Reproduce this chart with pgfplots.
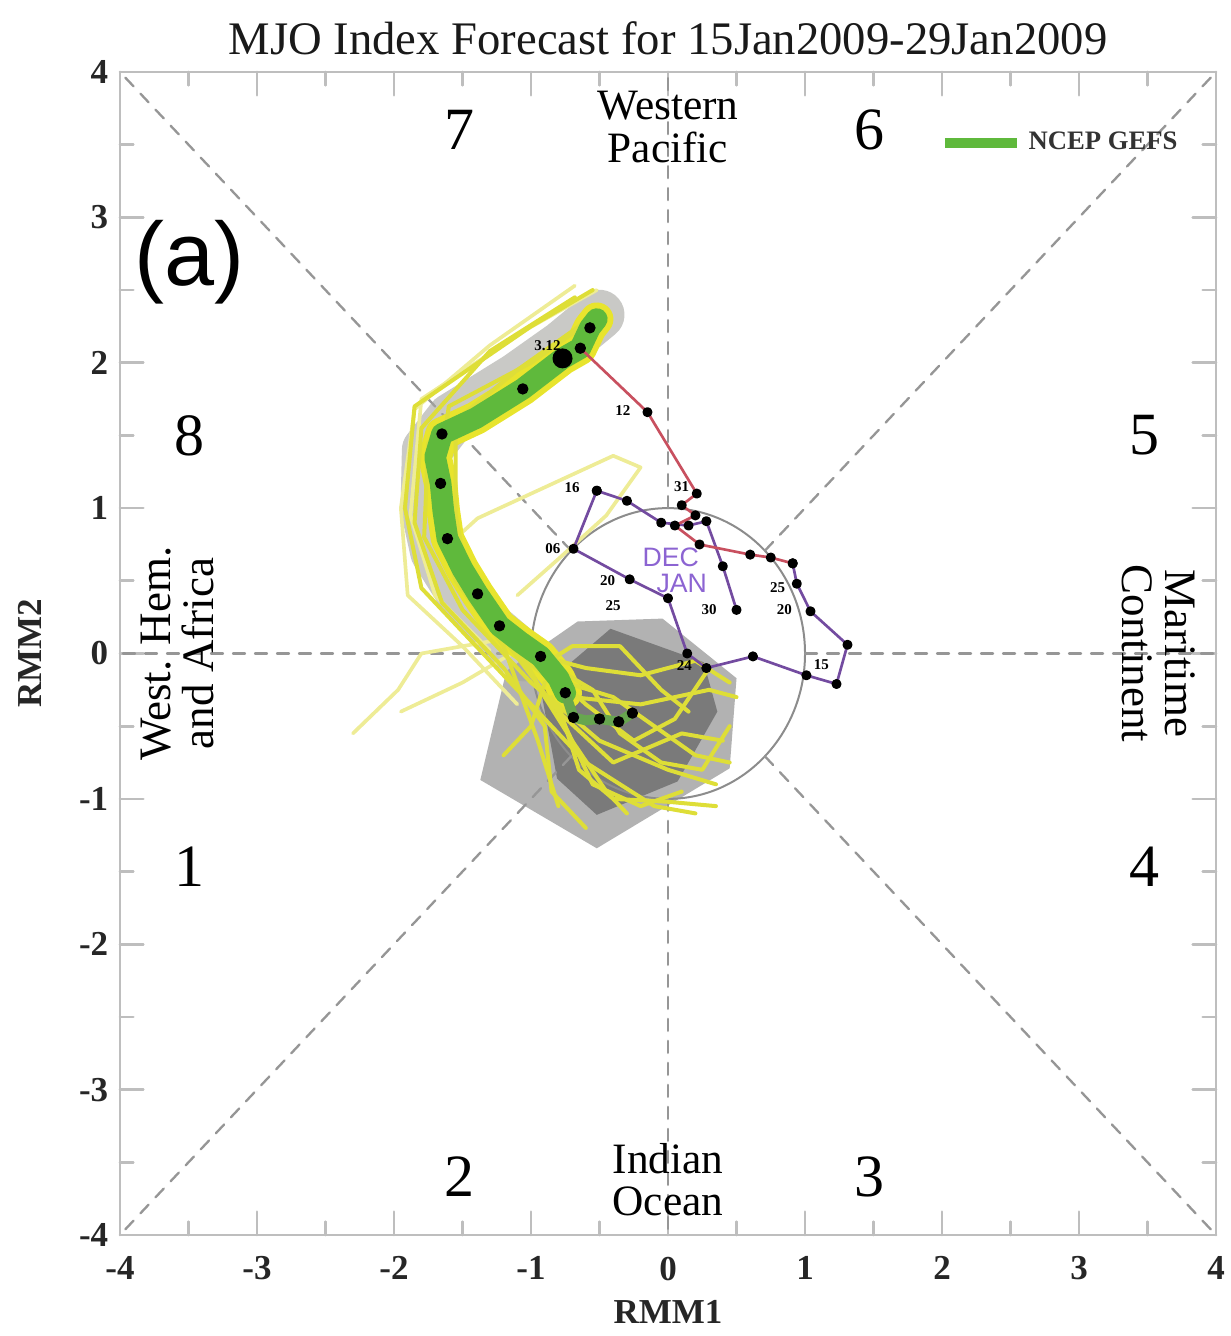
\documentclass[border=0pt]{standalone}
\usepackage{fontspec}
\setmainfont{Liberation Serif}
\setsansfont{Liberation Sans}
\usepackage{pgfplots}
\pgfplotsset{compat=1.18}
\definecolor{trackgreen}{RGB}{95,185,60}
\definecolor{bandyellow}{RGB}{232,228,45}
\definecolor{ensyellow}{RGB}{222,222,55}
\definecolor{paleyellow}{RGB}{238,236,150}
\definecolor{bandgray}{RGB}{165,165,160}
\definecolor{polyouter}{RGB}{178,178,178}
\definecolor{polyinner}{RGB}{122,122,122}
\definecolor{axisgray}{RGB}{190,190,190}
\definecolor{dashgray}{RGB}{150,150,150}
\definecolor{circgray}{RGB}{140,140,140}
\definecolor{janred}{RGB}{200,80,95}
\definecolor{decpurple}{RGB}{115,75,160}
\definecolor{txtpurple}{RGB}{140,100,210}
\begin{document}
\begin{tikzpicture}
\begin{axis}[name=ax, scale only axis, width=328.8pt, height=348.9pt,
  xmin=-4, xmax=4, ymin=-4, ymax=4,
  xtick={-4,-3,-2,-1,0,1,2,3,4}, ytick={-4,-3,-2,-1,0,1,2,3,4},
  xticklabels={-4,-3,-2,-1,0,1,2,3,4}, yticklabels={-4,-3,-2,-1,0,1,2,3,4},
  minor tick num=1, tick align=inside, major tick length=7pt, minor tick length=4pt,
  axis line style={axisgray, line width=0.8pt},
  every tick/.style={axisgray, line width=0.8pt},
  tick label style={font=\fontsize{10.5}{10.5}\selectfont\bfseries, text=black!85},
  xticklabel style={yshift=-3pt},
  xlabel={RMM1}, ylabel={RMM2},
  xlabel style={at={(axis description cs:0.5,-0.0660)}, anchor=center, font=\fontsize{10.5}{10.5}\selectfont\bfseries, text=black!85},
  ylabel style={at={(axis description cs:-0.082,0.5)}, anchor=center, font=\fontsize{10.5}{10.5}\selectfont\bfseries, text=black!85},
  title={MJO Index Forecast for 15Jan2009-29Jan2009},
  title style={at={(axis description cs:0.5,1.012)}, anchor=center, font=\fontsize{14}{14}\selectfont, text=black!90},
  legend style={at={(axis cs:1.98,3.51)}, anchor=west, draw=none, fill=none, inner sep=0pt,
    font=\fontsize{8}{8}\selectfont\bfseries, text=black!80},
  legend image code/.code={\draw[trackgreen, line width=3pt] (0pt,0pt) -- (21.6pt,0pt);},
  line join=round, line cap=round,
]
% outer polygon and inner polygon
\addplot[fill=polyouter, draw=none, forget plot] coordinates {(-1.37,-0.87)(-1.18,-0.12)(-0.66,0.22)(-0.04,0.24)(0.50,-0.17)(0.45,-0.79)(-0.52,-1.34)} --cycle;
\addplot[fill=polyinner, draw=none, forget plot] coordinates {(-0.42,0.17)(0.26,-0.06)(0.36,-0.40)(0.07,-0.88)(-0.52,-1.11)(-0.81,-0.86)(-0.93,-0.24)} --cycle;
% unit circle
\draw[circgray, line width=0.6pt] (axis cs:0,0) ellipse [x radius=1, y radius=1];
% dashed phase lines
\addplot[dashgray, line width=0.7pt, dash pattern=on 3.6pt off 3pt, forget plot] coordinates {(0.7071,0.7071)(4,4)};
\addplot[dashgray, line width=0.7pt, dash pattern=on 3.6pt off 3pt, forget plot] coordinates {(-0.7071,-0.7071)(-4,-4)};
\addplot[dashgray, line width=0.7pt, dash pattern=on 3.6pt off 3pt, forget plot] coordinates {(-0.7071,0.7071)(-4,4)};
\addplot[dashgray, line width=0.7pt, dash pattern=on 3.6pt off 3pt, forget plot] coordinates {(0.7071,-0.7071)(4,-4)};
\addplot[dashgray, line width=0.7pt, dash pattern=on 3.6pt off 3pt, forget plot] coordinates {(0,1)(0,4)};
\addplot[dashgray, line width=0.7pt, dash pattern=on 3.6pt off 3pt, forget plot] coordinates {(0,-1)(0,-4)};
\addplot[dashgray, line width=0.7pt, dash pattern=on 3.6pt off 3pt, forget plot] coordinates {(1,0)(4,0)};
\addplot[dashgray, line width=0.7pt, dash pattern=on 3.6pt off 3pt, forget plot] coordinates {(-1,0)(-4,0)};
% gray spread band
\addplot[bandgray, line width=15pt, opacity=0.6, forget plot] coordinates {(-0.50,2.33)(-0.77,2.12)(-1.10,1.90)(-1.58,1.62)(-1.76,1.40)(-1.77,1.00)(-1.70,0.70)(-1.52,0.43)(-1.30,0.18)(-1.05,-0.02)};
% pale outer ensemble lines
\addplot[paleyellow, line width=1.1pt, forget plot] coordinates {(-0.68,2.53)(-1.30,2.12)(-1.85,1.68)(-1.95,1.00)(-1.90,0.40)(-1.50,0.05)(-1.10,-0.35)};
\addplot[paleyellow, line width=1.1pt, forget plot] coordinates {(-0.52,2.50)(-1.05,2.22)(-1.80,1.75)(-1.88,0.95)(-1.70,0.40)(-1.30,0.02)};
\addplot[paleyellow, line width=1.1pt, forget plot] coordinates {(-1.60,0.75)(-1.39,0.93)(-0.40,1.36)(-0.20,1.28)(-0.45,0.95)(-0.80,0.65)(-1.10,0.40)};
\addplot[paleyellow, line width=1.1pt, forget plot] coordinates {(-1.20,0.10)(-1.80,0.00)(-1.97,-0.25)(-2.30,-0.55)};
\addplot[paleyellow, line width=1.1pt, forget plot] coordinates {(-1.05,0.05)(-1.50,-0.20)(-1.95,-0.40)};
% yellow band
\addplot[bandyellow, line width=10pt, forget plot] coordinates {(-0.52,2.30)(-0.57,2.24)(-0.64,2.10)(-0.77,2.03)(-1.06,1.82)(-1.40,1.62)(-1.65,1.51)(-1.70,1.35)(-1.66,1.17)(-1.64,0.98)(-1.61,0.79)(-1.50,0.58)(-1.39,0.41)(-1.23,0.19)(-1.08,0.08)(-0.93,-0.02)(-0.80,-0.17)(-0.75,-0.27)};
% ensemble members
\addplot[ensyellow, line width=1.2pt, forget plot] coordinates {(-0.55,2.50)(-1.00,2.25)(-1.85,1.70)(-1.92,1.00)(-1.80,0.45)(-1.40,0.05)(-1.00,-0.35)(-0.60,-0.75)(-0.10,-1.05)(0.20,-1.10)};
\addplot[ensyellow, line width=1.2pt, forget plot] coordinates {(-0.68,2.45)(-1.30,2.08)(-1.80,1.55)(-1.85,0.90)(-1.65,0.35)(-1.20,-0.10)(-0.90,-0.50)(-0.85,-0.95)(-0.60,-1.20)};
\addplot[ensyellow, line width=1.2pt, forget plot] coordinates {(-0.50,2.35)(-1.10,1.95)(-1.55,1.60)(-1.55,0.95)(-1.45,0.45)(-1.10,0.00)(-0.70,-0.30)(-0.20,-0.35)(0.30,-0.25)(0.50,-0.30)};
\addplot[ensyellow, line width=1.2pt, forget plot] coordinates {(-0.60,2.20)(-1.20,1.75)(-1.75,1.45)(-1.78,0.80)(-1.50,0.30)(-1.00,-0.20)(-0.50,-0.60)(0.00,-0.80)(0.35,-0.90)};
\addplot[ensyellow, line width=1.2pt, forget plot] coordinates {(-0.55,2.30)(-1.00,2.00)(-1.60,1.70)(-1.70,1.05)(-1.55,0.50)(-1.20,0.05)(-0.95,-0.60)(-0.80,-1.05)};
\addplot[ensyellow, line width=1.2pt, forget plot] coordinates {(-1.30,0.25)(-1.00,0.00)(-0.60,-0.10)(-0.20,-0.15)(0.20,-0.05)(0.45,-0.20)};
\addplot[ensyellow, line width=1.2pt, forget plot] coordinates {(-1.20,0.10)(-0.80,-0.40)(-0.40,-0.75)(0.10,-0.55)(0.40,-0.60)};
\addplot[ensyellow, line width=1.2pt, forget plot] coordinates {(-1.10,0.05)(-0.90,-0.30)(-0.70,-0.60)(-0.45,-0.95)(-0.30,-1.10)};
\addplot[ensyellow, line width=1.2pt, forget plot] coordinates {(-1.00,0.00)(-0.55,-0.25)(-0.35,-0.55)(-0.05,-0.75)(0.25,-0.80)(0.45,-0.50)};
\addplot[ensyellow, line width=1.2pt, forget plot] coordinates {(-0.95,-0.10)(-0.70,0.05)(-0.35,0.05)(-0.05,-0.25)(0.15,-0.40)};
\addplot[ensyellow, line width=1.2pt, forget plot] coordinates {(-0.90,-0.20)(-1.00,-0.50)(-1.20,-0.70)};
\addplot[ensyellow, line width=1.2pt, forget plot] coordinates {(-0.85,-0.30)(-0.55,-0.90)(-0.20,-1.05)(0.10,-0.95)};
\addplot[ensyellow, line width=1.2pt, forget plot] coordinates {(-0.88,-0.10)(-0.60,-0.35)(-0.25,-0.60)(0.05,-0.45)(0.30,-0.10)};
\addplot[ensyellow, line width=1.2pt, forget plot] coordinates {(-0.80,-0.35)(-0.65,-0.80)(-0.40,-1.00)(0.00,-1.02)(0.35,-1.05)};
\addplot[ensyellow, line width=1.2pt, forget plot] coordinates {(-0.75,-0.20)(-0.40,-0.30)(-0.10,-0.50)(0.20,-0.70)(0.45,-0.75)};
% green ensemble mean
\addplot[trackgreen, line width=6.5pt] coordinates {(-0.52,2.30)(-0.57,2.24)(-0.64,2.10)(-0.77,2.03)(-1.06,1.82)(-1.40,1.62)(-1.65,1.51)(-1.70,1.35)(-1.66,1.17)(-1.64,0.98)(-1.61,0.79)(-1.50,0.58)(-1.39,0.41)(-1.23,0.19)(-1.08,0.08)(-0.93,-0.02)(-0.80,-0.17)(-0.75,-0.27)};
\addlegendentry{NCEP GEFS}
\addplot[trackgreen!70!polyinner, line width=3pt, forget plot] coordinates {(-0.75,-0.27)(-0.69,-0.44)(-0.60,-0.46)(-0.50,-0.45)(-0.36,-0.47)(-0.26,-0.41)};
\addplot[only marks, mark=*, mark size=1.5pt, black, forget plot] coordinates {(-0.57,2.24)(-0.64,2.10)(-1.06,1.82)(-1.65,1.51)(-1.66,1.17)(-1.61,0.79)(-1.39,0.41)(-1.23,0.19)(-0.93,-0.02)(-0.75,-0.27)(-0.69,-0.44)(-0.50,-0.45)(-0.36,-0.47)(-0.26,-0.41)};
\addplot[only marks, mark=*, mark size=2.8pt, black, forget plot] coordinates {(-0.77,2.03)};
% observed trajectory
\addplot[decpurple, line width=0.8pt, mark=*, mark size=1.1pt, mark options={black}, forget plot] coordinates {(-0.52,1.12)(-0.69,0.72)(-0.28,0.51)(0.00,0.38)(0.14,0.00)(0.28,-0.10)(0.62,-0.02)(1.01,-0.15)(1.23,-0.21)(1.31,0.06)(1.04,0.29)(0.94,0.48)(0.91,0.62)};
\addplot[decpurple, line width=0.8pt, mark=*, mark size=1.1pt, mark options={black}, forget plot] coordinates {(-0.52,1.12)(-0.30,1.05)(-0.05,0.90)(0.15,0.88)(0.28,0.91)(0.40,0.60)(0.50,0.30)};
\addplot[janred, line width=0.8pt, mark=*, mark size=1.1pt, mark options={black}, forget plot] coordinates {(0.91,0.62)(0.75,0.66)(0.60,0.68)(0.23,0.75)(0.05,0.88)(0.20,0.95)(0.10,1.02)(0.21,1.10)(-0.15,1.66)(-0.64,2.10)};
% tiny day labels
\node[font=\fontsize{4.5}{4.5}\selectfont\bfseries] at (axis cs:-0.33,1.67) {12};
\node[font=\fontsize{4.5}{4.5}\selectfont\bfseries] at (axis cs:-0.70,1.14) {16};
\node[font=\fontsize{4.5}{4.5}\selectfont\bfseries] at (axis cs:-0.84,0.72) {06};
\node[font=\fontsize{4.5}{4.5}\selectfont\bfseries] at (axis cs:-0.44,0.50) {20};
\node[font=\fontsize{4.5}{4.5}\selectfont\bfseries] at (axis cs:-0.40,0.33) {25};
\node[font=\fontsize{4.5}{4.5}\selectfont\bfseries] at (axis cs:0.30,0.30) {30};
\node[font=\fontsize{4.5}{4.5}\selectfont\bfseries] at (axis cs:0.80,0.45) {25};
\node[font=\fontsize{4.5}{4.5}\selectfont\bfseries] at (axis cs:0.85,0.30) {20};
\node[font=\fontsize{4.5}{4.5}\selectfont\bfseries] at (axis cs:0.12,-0.08) {24};
\node[font=\fontsize{4.5}{4.5}\selectfont\bfseries] at (axis cs:1.12,-0.08) {15};
\node[font=\fontsize{4.5}{4.5}\selectfont\bfseries] at (axis cs:0.10,1.15) {31};
\node[font=\fontsize{4.5}{4.5}\selectfont\bfseries] at (axis cs:-0.88,2.12) {3.12};
\node[font=\fontsize{8}{8}\selectfont\sffamily, text=txtpurple] at (axis cs:0.02,0.66) {DEC};
\node[font=\fontsize{8}{8}\selectfont\sffamily, text=txtpurple] at (axis cs:0.10,0.48) {JAN};
% phase numbers and regions
\node[font=\fontsize{18}{18}\selectfont] at (axis cs:-1.52,3.60) {7};
\node[font=\fontsize{18}{18}\selectfont] at (axis cs:1.47,3.60) {6};
\node[font=\fontsize{18}{18}\selectfont] at (axis cs:-3.49,1.50) {8};
\node[font=\fontsize{18}{18}\selectfont] at (axis cs:3.48,1.50) {5};
\node[font=\fontsize{18}{18}\selectfont] at (axis cs:-3.49,-1.47) {1};
\node[font=\fontsize{18}{18}\selectfont] at (axis cs:3.48,-1.47) {4};
\node[font=\fontsize{18}{18}\selectfont] at (axis cs:-1.52,-3.60) {2};
\node[font=\fontsize{18}{18}\selectfont] at (axis cs:1.47,-3.60) {3};
\node[font=\fontsize{13}{12.8}\selectfont, align=center] at (axis cs:0,3.62) {Western\\Pacific};
\node[font=\fontsize{13}{12.8}\selectfont, align=center] at (axis cs:0,-3.62) {Indian\\Ocean};
\node[font=\fontsize{13.5}{12.8}\selectfont, align=center, rotate=90] at (axis cs:-3.58,0) {West. Hem.\\and Africa};
\node[font=\fontsize{13.5}{12.8}\selectfont, align=center, rotate=-90] at (axis cs:3.58,0) {Maritime\\Continent};
\node[font=\fontsize{27}{27}\selectfont\sffamily] at (axis cs:-3.49,2.69) {(a)};
\end{axis}
\pgfresetboundingbox
\path ([xshift=-36pt,yshift=-30.3pt]ax.south west) rectangle ([xshift=4.2pt,yshift=21.6pt]ax.north east);
\end{tikzpicture}
\end{document}
